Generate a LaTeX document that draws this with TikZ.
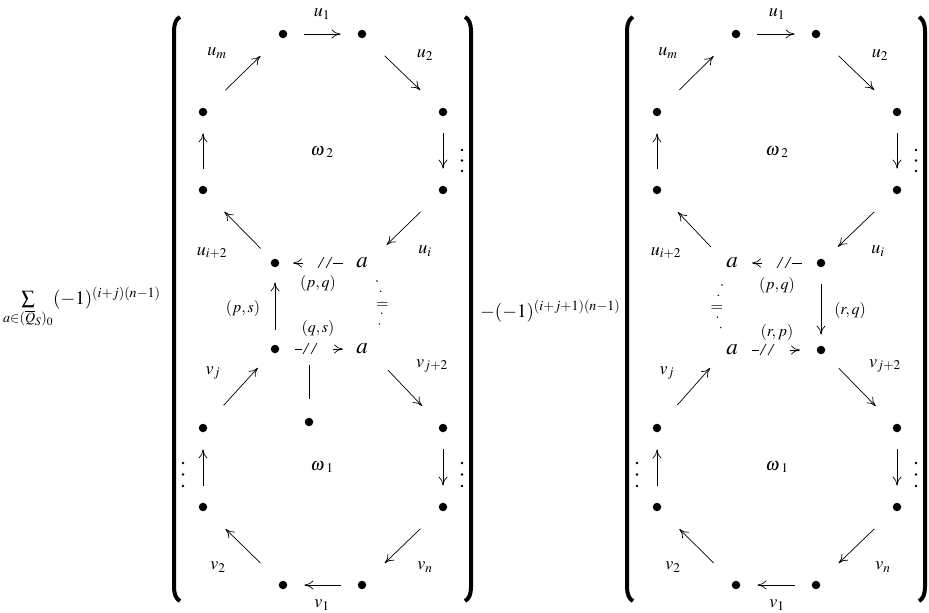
\documentclass[tikz,border=0pt]{standalone}
\usepackage{mathptmx}
\usetikzlibrary{arrows.meta,calc}

\tikzset{
  tipA/.tip={Computer Modern Rightarrow[length=9pt,width=9pt]},
  dot/.style={circle,fill,inner sep=0pt,minimum size=8.5pt},
  lbl/.style={inner sep=0pt,font=\fontsize{18}{21}\selectfont},
  edge/.style={inner sep=0pt,font=\fontsize{16}{19}\selectfont},
  obj/.style={inner sep=0pt,font=\fontsize{23}{27}\selectfont},
  form/.style={inner sep=0pt,font=\fontsize{19}{23}\selectfont},
  ar/.style={-tipA,line width=0.7pt},
  st/.style={shorten <=17pt,shorten >=17pt},
  dg/.style={shorten <=27pt,shorten >=27pt},
  bigparen/.style={line width=4pt},
  eqdots/.style={line width=1.6pt,line cap=round,dash pattern=on 0pt off 11pt},
  % broken arrow pointing left: tip, two strokes, short dash
  brkL/.pic={
    \draw[ar] (10,0) -- (0,0);
    \draw[line width=0.7pt] (25,5) -- (31,-6) (33,5) -- (39,-6);
    \draw[line width=0.7pt] (40,0) -- (50,0);
  },
  % broken arrow pointing right: short dash, two strokes, tip
  brkR/.pic={
    \draw[line width=0.7pt] (0,0) -- (7,0);
    \draw[line width=0.7pt] (8,5) -- (14,-6) (16,5) -- (22,-6);
    \draw[ar] (38,0) -- (48,0);
  },
}

\begin{document}
\begin{tikzpicture}[x=1pt,y=-1pt]
\useasboundingbox (0,0) rectangle (929,613);

% ---------------- prefactors ----------------
\node[form,anchor=base west] (f1) at (3,304)
  {$\sum\limits_{a\in(\overline{Q}_S)_0}(-1)^{(i+j)(n-1)}$};
\node[form,anchor=base west] (f2) at (480,317)
  {$-(-1)^{(i+j+1)(n-1)}$};

% ---------------- brackets ----------------
\draw[bigparen] (180,17) .. controls (176,19) and (174,24) .. (174,31)
  -- (174,587) .. controls (174,594) and (176,599) .. (180,601);
\draw[bigparen] (465,17) .. controls (469,19) and (471,24) .. (471,31)
  -- (471,587) .. controls (471,594) and (469,599) .. (465,601);
\draw[bigparen] (633,17) .. controls (629,19) and (627,24) .. (627,31)
  -- (627,587) .. controls (627,594) and (629,599) .. (633,601);
\draw[bigparen] (919,17) .. controls (923,19) and (925,24) .. (925,31)
  -- (925,587) .. controls (925,594) and (923,599) .. (919,601);

% ================= left quiver =================
\node[dot] (LT1) at (283,34) {};
\node[dot] (LT2) at (362,34) {};
\node[dot] (LA1) at (203,112) {};
\node[dot] (LB1) at (443,112) {};
\node[dot] (LA2) at (203,190) {};
\node[dot] (LB2) at (443,190) {};
\node[dot] (LmU) at (275,263) {};
\node[obj] (LaU) at (362,263) {$a$};
\node[dot] (LmD) at (275,349) {};
\node[obj] (LaD) at (362,349) {$a$};
\node[dot] (Lx)  at (309,422) {};
\node[dot] (LA3) at (203,428) {};
\node[dot] (LB3) at (443,428) {};
\node[dot] (LA4) at (203,507) {};
\node[dot] (LB4) at (443,507) {};
\node[dot] (LD1) at (283,585) {};
\node[dot] (LD2) at (362,585) {};

\draw[ar,st] (LT1) -- (LT2);
\draw[ar,dg] (LA1) -- (LT1);
\draw[ar,dg] (LT2) -- (LB1);
\draw[ar,st] (LB1) -- (LB2);
\draw[ar,st] (LA2) -- (LA1);
\draw[ar,shorten <=16pt,shorten >=26pt] (LmU) -- (LA2);
\draw[ar,shorten <=27pt,shorten >=26pt] (LB2) -- (LaU.east);
\draw[ar,shorten <=26pt,shorten >=21pt] (LA3) -- (LmD);
\draw[ar,shorten <=29pt,shorten >=26pt] (LaD.east) -- (LB3);
\draw[ar,st] (LB3) -- (LB4);
\draw[ar,st] (LA4) -- (LA3);
\draw[ar,dg] (LB4) -- (LD2);
\draw[ar,st] (LD2) -- (LD1);
\draw[ar,dg] (LD1) -- (LA4);
\draw[ar,shorten <=15pt,shorten >=15pt] (LmD) -- (LmU);
\draw[line width=0.7pt,shorten <=19pt,shorten >=16pt] (Lx) -- (Lx |- LmD);
\pic at ($(LmU)+(18,0)$) {brkL};
\pic at ($(LmD)+(20,0)$) {brkR};
\draw[eqdots] ($(LaU)+(15,18)$) .. controls ($(LaU)+(22,31)$) and ($(LaD)+(22,-31)$) .. ($(LaD)+(15,-20)$)
  node[pos=0.5,fill=white,inner sep=1pt,font=\fontsize{16}{19}\selectfont] (Leq) {$=$};

\node[lbl] (Lu1) at (322,14) {$u_1$};
\node[lbl] (Lum) at (217,53) {$u_m$};
\node[lbl] (Lu2) at (425,55) {$u_2$};
\node[lbl] (Lw2) at (322,152) {$\omega\mkern2mu_2$};
\node[lbl] (Lui2) at (212,253) {$u_{i+2}$};
\node[lbl] (Lui) at (425,251) {$u_i$};
\node[edge] (Lpq) at (318,283) {$(p,q)$};
\node[edge] (Lps) at (243,308) {$(p,s)$};
\node[edge] (Lqs) at (318,328) {$(q,s)$};
\node[lbl] (Lvj) at (213,373) {$v_j$};
\node[lbl] (Lvj2) at (432,366) {$v_{j+2}$};
\node[lbl] (Lw1) at (322,467) {$\omega\mkern2mu_1$};
\node[lbl] (Lv2) at (218,567) {$v_2$};
\node[lbl] (Lvn) at (425,567) {$v_n$};
\node[lbl] (Lv1) at (322,605) {$v_1$};

\foreach \yy in {150,160.5,171} \fill (462,\yy) circle (1.3pt);
\foreach \yy in {463,474.5,486} {\fill (183,\yy) circle (1.3pt); \fill (462,\yy) circle (1.3pt);}

% ================= right quiver =================
\node[dot] (RT1) at (736,34) {};
\node[dot] (RT2) at (816,34) {};
\node[dot] (RA1) at (657,112) {};
\node[dot] (RB1) at (897,112) {};
\node[dot] (RA2) at (657,190) {};
\node[dot] (RB2) at (897,190) {};
\node[obj] (RaU) at (732,263) {$a$};
\node[dot] (RmU) at (821,263) {};
\node[obj] (RaD) at (732,350) {$a$};
\node[dot] (RmD) at (821,350) {};
\node[dot] (RA3) at (657,428) {};
\node[dot] (RB3) at (897,428) {};
\node[dot] (RA4) at (657,507) {};
\node[dot] (RB4) at (897,507) {};
\node[dot] (RD1) at (736,585) {};
\node[dot] (RD2) at (816,585) {};

\draw[ar,st] (RT1) -- (RT2);
\draw[ar,dg] (RA1) -- (RT1);
\draw[ar,dg] (RT2) -- (RB1);
\draw[ar,st] (RB1) -- (RB2);
\draw[ar,st] (RA2) -- (RA1);
\draw[ar,shorten <=22pt,shorten >=26pt] (RaU.west) -- (RA2);
\draw[ar,shorten <=27pt,shorten >=19pt] (RB2) -- (RmU);
\draw[ar,shorten <=26pt,shorten >=24pt] (RA3) -- (RaD.west);
\draw[ar,shorten <=21pt,shorten >=26pt] (RmD) -- (RB3);
\draw[ar,st] (RB3) -- (RB4);
\draw[ar,st] (RA4) -- (RA3);
\draw[ar,dg] (RB4) -- (RD2);
\draw[ar,st] (RD2) -- (RD1);
\draw[ar,dg] (RD1) -- (RA4);
\draw[ar,shorten <=17pt,shorten >=11pt] (RmU) -- (RmD);
\pic at ($(RaU)+(20,0)$) {brkL};
\pic at ($(RaD)+(20,0)$) {brkR};
\draw[eqdots] ($(RaU)+(-10,22)$) .. controls ($(RaU)+(-17,35)$) and ($(RaD)+(-17,-30)$) .. ($(RaD)+(-10,-20)$)
  node[pos=0.5,fill=white,inner sep=1pt,font=\fontsize{16}{19}\selectfont] (Req) {$=$};

\node[lbl] (Ru1) at (777,14) {$u_1$};
\node[lbl] (Rum) at (668,53) {$u_m$};
\node[lbl] (Ru2) at (880,55) {$u_2$};
\node[lbl] (Rw2) at (777,152) {$\omega\mkern2mu_2$};
\node[lbl] (Rui2) at (666,253) {$u_{i+2}$};
\node[lbl] (Rui) at (878,251) {$u_i$};
\node[edge] (Rpq) at (777,285) {$(p,q)$};
\node[edge] (Rrq) at (850,310) {$(r,q)$};
\node[edge] (Rrp) at (777,332) {$(r,p)$};
\node[lbl] (Rvj) at (667,373) {$v_j$};
\node[lbl] (Rvj2) at (885,366) {$v_{j+2}$};
\node[lbl] (Rw1) at (777,467) {$\omega\mkern2mu_1$};
\node[lbl] (Rv2) at (673,567) {$v_2$};
\node[lbl] (Rvn) at (883,567) {$v_n$};
\node[lbl] (Rv1) at (777,605) {$v_1$};

\foreach \yy in {150,160.5,171} \fill (916,\yy) circle (1.3pt);
\foreach \yy in {463,474.5,486} {\fill (637,\yy) circle (1.3pt); \fill (916,\yy) circle (1.3pt);}
\end{tikzpicture}
\end{document}
